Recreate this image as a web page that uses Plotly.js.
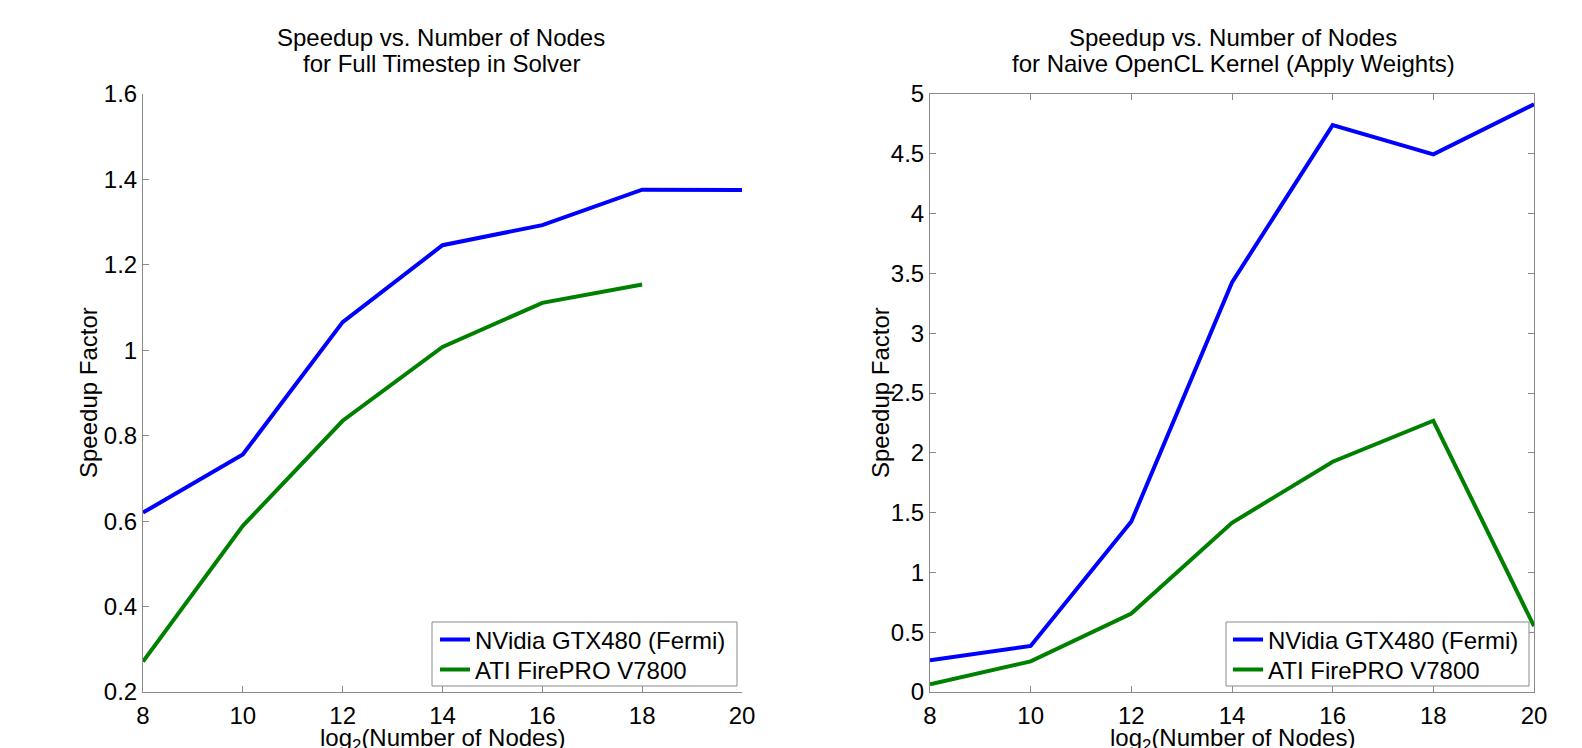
<!DOCTYPE html>
<html>
<head>
<meta charset="utf-8">
<script src="https://cdn.plot.ly/plotly-3.0.1.min.js"></script>
<style>
  html, body { margin: 0; padding: 0; background: #fff; }
  #chart { width: 1582px; height: 748px; }
</style>
</head>
<body>
<div id="chart"></div>
<script>
// ---- data ----
const nodesLog2 = [8, 10, 12, 14, 16, 18, 20];
const seriesNames = ['NVidia GTX480 (Fermi)', 'ATI FirePRO V7800'];

// Left panel: Full Timestep in Solver
const fullNvidia = [0.62, 0.756, 1.066, 1.246, 1.293, 1.376, 1.375];
const fullAtiX = [8, 10, 12, 14, 16, 18];
const fullAti = [0.271, 0.589, 0.835, 1.008, 1.111, 1.154];

// Right panel: Naive OpenCL Kernel (Apply Weights)
const naiveNvidia = [0.265, 0.385, 1.425, 3.425, 4.74, 4.495, 4.915];
const naiveAti = [0.064, 0.256, 0.656, 1.415, 1.925, 2.268, 0.55];

const leftTitle = ['Speedup vs. Number of Nodes', 'for Full Timestep in Solver'];
const rightTitle = ['Speedup vs. Number of Nodes', 'for Naive OpenCL Kernel (Apply Weights)'];
const xTitle = 'log<sub>2</sub>(Number of Nodes)';
const yTitle = 'Speedup Factor';

// ---- styles ----
const FONT = 'Liberation Sans, Arial, Helvetica, sans-serif';
const BLUE = '#0000ff';
const GREEN = '#008000';
const AXC = '#8a8a8a';
const W = 1582, H = 748;

const traces = [
  {x: nodesLog2, y: fullNvidia, name: seriesNames[0], mode: 'lines', line: {color: BLUE, width: 4}, xaxis: 'x', yaxis: 'y', legend: 'legend'},
  {x: fullAtiX, y: fullAti, name: seriesNames[1], mode: 'lines', line: {color: GREEN, width: 4}, xaxis: 'x', yaxis: 'y', legend: 'legend2'},
  {x: nodesLog2, y: naiveNvidia, name: seriesNames[0], mode: 'lines', line: {color: BLUE, width: 4}, xaxis: 'x2', yaxis: 'y2', legend: 'legend3'},
  {x: nodesLog2, y: naiveAti, name: seriesNames[1], mode: 'lines', line: {color: GREEN, width: 4}, xaxis: 'x2', yaxis: 'y2', legend: 'legend4'}
];

const tickFont = {family: FONT, size: 24, color: '#000'};
const axisBase = {
  showgrid: false, zeroline: false, showline: true, linecolor: AXC, linewidth: 1,
  ticks: 'inside', ticklen: 6, tickwidth: 1, tickcolor: AXC,
  tickfont: tickFont, fixedrange: true
};

const yDom = [1 - 692 / H, 1 - 94 / H];
const pLeft = [143 / W, 742 / W];
const pRight = [930 / W, 1534 / W];

// legend entries: borderless, the frame is drawn as a shape behind them
const legendBase = {
  xanchor: 'left', yanchor: 'middle',
  bgcolor: 'rgba(0,0,0,0)', borderwidth: 0,
  font: {family: FONT, size: 24, color: '#000'}, tracegroupgap: 0, itemwidth: 30
};
const legRow1 = 1 - 640 / H, legRow2 = 1 - 670 / H;
const legFrame = (x0, x1) => ({
  type: 'rect', xref: 'paper', yref: 'paper', layer: 'above',
  x0: x0 / W, x1: x1 / W, y0: 1 - 686 / H, y1: 1 - 622 / H,
  fillcolor: '#fff', line: {color: AXC, width: 1}
});

const layout = {
  width: W, height: H,
  margin: {l: 0, r: 0, t: 0, b: 0},
  paper_bgcolor: '#fff', plot_bgcolor: '#fff',
  font: {family: FONT, color: '#000'},
  xaxis: Object.assign({}, axisBase, {
    domain: pLeft, range: [8, 20], tickvals: nodesLog2, mirror: false, anchor: 'y', ticklabelstandoff: 2
  }),
  yaxis: Object.assign({}, axisBase, {
    domain: yDom, range: [0.2, 1.6], dtick: 0.2, tick0: 0.2, mirror: false, anchor: 'x'
  }),
  xaxis2: Object.assign({}, axisBase, {
    domain: pRight, range: [8, 20], tickvals: nodesLog2, mirror: 'ticks', anchor: 'y2', ticklabelstandoff: 2
  }),
  yaxis2: Object.assign({}, axisBase, {
    domain: yDom, range: [0, 5], dtick: 0.5, tick0: 0, mirror: 'ticks', anchor: 'x2'
  }),
  legend: Object.assign({}, legendBase, {x: 435 / W, y: legRow1}),
  legend2: Object.assign({}, legendBase, {x: 435 / W, y: legRow2}),
  legend3: Object.assign({}, legendBase, {x: 1228 / W, y: legRow1}),
  legend4: Object.assign({}, legendBase, {x: 1228 / W, y: legRow2}),
  showlegend: true,
  shapes: [legFrame(432, 737), legFrame(1226, 1529)],
  annotations: [
    {text: leftTitle[0], x: 441 / W, y: 1 - 38 / H},
    {text: leftTitle[1], x: 441 / W, y: 1 - 63 / H},
    {text: rightTitle[0], x: 1233 / W, y: 1 - 38 / H},
    {text: rightTitle[1], x: 1233 / W, y: 1 - 63 / H}
  ].map(a => Object.assign(a, {
    xref: 'paper', yref: 'paper', xanchor: 'center', yanchor: 'middle',
    showarrow: false, font: {family: FONT, size: 24, color: '#000'}
  })).concat([
    {text: yTitle, x: 88 / W, y: 1 - 393 / H},
    {text: yTitle, x: 880 / W, y: 1 - 393 / H}
  ].map(a => Object.assign(a, {
    xref: 'paper', yref: 'paper', xanchor: 'center', yanchor: 'middle', textangle: -90,
    showarrow: false, font: {family: FONT, size: 24, color: '#000'}
  }))).concat([
    {text: xTitle, x: (pLeft[0] + pLeft[1]) / 2, y: 1 - 722 / H},
    {text: xTitle, x: (pRight[0] + pRight[1]) / 2, y: 1 - 722 / H}
  ].map(a => Object.assign(a, {
    xref: 'paper', yref: 'paper', xanchor: 'center', yanchor: 'top',
    showarrow: false, font: {family: FONT, size: 24, color: '#000'}
  })))
};

Plotly.newPlot('chart', traces, layout, {displayModeBar: false, staticPlot: true});
</script>
</body>
</html>
